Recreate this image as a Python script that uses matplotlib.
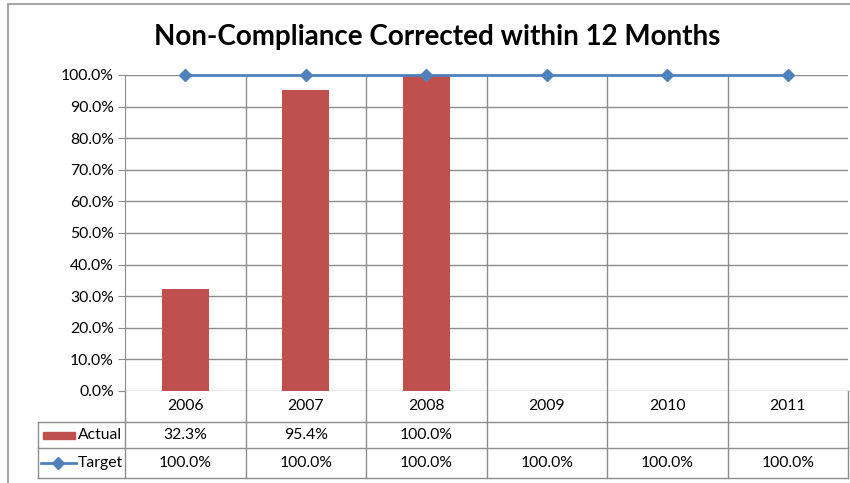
"""
Non-Compliance Corrected within 12 Months - bar + line with data table
"""

import numpy as np
import matplotlib
matplotlib.use('Agg')
import matplotlib.pyplot as plt
from matplotlib.lines import Line2D
from matplotlib.patches import Rectangle
from matplotlib.transforms import blended_transform_factory

years = ['2006', '2007', '2008', '2009', '2010', '2011']
actual = [0.323, 0.954, 1.0, np.nan, np.nan, np.nan]
target = [1.0, 1.0, 1.0, 1.0, 1.0, 1.0]
series_names = ['Actual', 'Target']
title = "Non-Compliance Corrected within 12 Months"

RED = '#C0504D'
BLUE = '#4F81BD'
GRID = '#8C8C8C'
FS = 11.3

plt.rcParams['font.family'] = ['Lato', 'DejaVu Sans']

W, H = 850, 483
fig = plt.figure(figsize=(W / 100, H / 100), dpi=100)


def fx(px):
    return px / W


def fy(py):
    return 1 - py / H


# outer chart border
fig.add_artist(Rectangle((fx(8), fy(490)), fx(860) - fx(8), fy(4) - fy(490),
                         transform=fig.transFigure, fill=False,
                         edgecolor='#A6A6A6', lw=1.5, clip_on=False))

left, right, top, bottom = 125, 848, 75, 391
ax = fig.add_axes([fx(left), fy(bottom), fx(right) - fx(left), fy(top) - fy(bottom)])

x = np.arange(len(years))
ax.bar(x, actual, width=0.39, color=RED, zorder=2)
ax.plot(x, target, color=BLUE, lw=2, marker='D', ms=6.5, zorder=3, clip_on=False)

ax.set_xlim(-0.5, len(years) - 0.5)
ax.set_ylim(0, 1)
yt = np.arange(0, 1.01, 0.1)
ax.set_yticks(yt)
ax.set_yticklabels([f"{v * 100:.1f}%" for v in yt], fontsize=FS)
ax.set_xticks([])
ax.tick_params(axis='y', length=5, color=GRID, pad=3)
ax.grid(axis='y', color=GRID, lw=1, zorder=0)
for b in np.arange(0.5, len(years) - 1, 1):
    ax.axvline(b, color=GRID, lw=1, zorder=0)
for s in ['top', 'bottom', 'right']:
    ax.spines[s].set_visible(False)
ax.spines['left'].set_color(GRID)

fig.text(fx(437), fy(37), title, ha='center', va='center', fontsize=20,
         fontweight='bold')

# data table
tr = blended_transform_factory(ax.transData, fig.transFigure)
row_y = [391, 422, 448, 478]
leg_left = 38


def hline(x0, x1, py):
    fig.add_artist(Line2D([fx(x0), fx(x1)], [fy(py), fy(py)], color=GRID, lw=1,
                          transform=fig.transFigure))


def vline(px, y0, y1):
    fig.add_artist(Line2D([fx(px), fx(px)], [fy(y0), fy(y1)], color=GRID, lw=1,
                          transform=fig.transFigure))


hline(leg_left, right, row_y[1])
hline(leg_left, right, row_y[2])
hline(leg_left, right, row_y[3])
vline(leg_left, row_y[1], row_y[3])
vline(left, row_y[0], row_y[3])
for b in np.arange(0.5, len(years), 1):
    fig.add_artist(Line2D([b, b], [fy(row_y[0]), fy(row_y[3])], color=GRID, lw=1,
                          transform=tr, clip_on=False))

for i, yr in enumerate(years):
    fig.text(x[i], fy((row_y[0] + row_y[1]) / 2), yr, transform=tr,
             ha='center', va='center', fontsize=FS)
    if not np.isnan(actual[i]):
        fig.text(x[i], fy((row_y[1] + row_y[2]) / 2), f"{actual[i] * 100:.1f}%",
                 transform=tr, ha='center', va='center', fontsize=FS)
    fig.text(x[i], fy((row_y[2] + row_y[3]) / 2), f"{target[i] * 100:.1f}%",
             transform=tr, ha='center', va='center', fontsize=FS)

# legend keys in the table
ya = fy((row_y[1] + row_y[2]) / 2)
fig.add_artist(Rectangle((fx(43), ya - 3.5 / H), fx(75) - fx(43), 7 / H,
                         transform=fig.transFigure, color=RED))
fig.text(fx(78), ya, series_names[0], ha='left', va='center', fontsize=FS)
yb = fy((row_y[2] + row_y[3]) / 2)
fig.add_artist(Line2D([fx(41), fx(76)], [yb, yb], color=BLUE, lw=2,
                      transform=fig.transFigure))
fig.add_artist(Line2D([fx(58.5)], [yb], color=BLUE, marker='D', ms=6, lw=0,
                      transform=fig.transFigure))
fig.text(fx(78), yb, series_names[1], ha='left', va='center', fontsize=FS)

plt.savefig('out.png', dpi=100)
plt.close()
